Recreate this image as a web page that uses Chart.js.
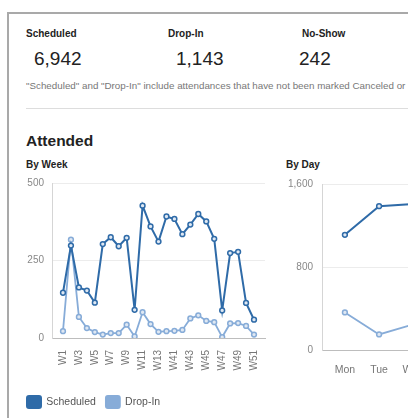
<!DOCTYPE html>
<html>
<head>
<meta charset="utf-8">
<script src="https://cdn.jsdelivr.net/npm/chart.js@4/dist/chart.umd.min.js"></script>
<style>
  body { margin: 0; width: 408px; height: 418px; overflow: hidden; background: #fff;
         font-family: "Liberation Sans", Arial, sans-serif; position: relative; }
  .card { position: absolute; left: 7px; top: 12px; width: 520px; height: 440px;
          border: 2px solid #a9a9a9; }
  .abs { position: absolute; white-space: nowrap; }
  .lbl { font-size: 10px; font-weight: bold; color: #222; }
  .val { font-size: 19px; color: #222; }
  .note { font-size: 9.8px; color: #777; }
  .rule { position: absolute; left: 26px; top: 108px; width: 500px; height: 1px; background: #ddd; }
  .title { font-size: 15.5px; font-weight: bold; color: #222; }
  canvas { position: absolute; }
</style>
</head>
<body>
<div class="card"></div>
<div class="abs lbl" style="left:26px;top:28px">Scheduled</div>
<div class="abs val" style="left:34px;top:48px">6,942</div>
<div class="abs lbl" style="left:168px;top:28px">Drop-In</div>
<div class="abs val" style="left:176px;top:48px">1,143</div>
<div class="abs lbl" style="left:302px;top:28px">No-Show</div>
<div class="abs val" style="left:299px;top:48px">242</div>
<div class="abs note" style="left:26px;top:80px">"Scheduled" and "Drop-In" include attendances that have not been marked Canceled or No-Show.</div>
<div class="rule"></div>
<div class="abs title" style="left:26px;top:132px">Attended</div>
<div class="abs lbl" style="left:26px;top:159px">By Week</div>
<div class="abs lbl" style="left:286px;top:159px">By Day</div>

<div style="position:absolute;left:17px;top:169px;width:258px;height:249px">
  <canvas id="week-chart"></canvas>
</div>
<div style="position:absolute;left:270px;top:169px;width:240px;height:213px">
  <canvas id="day-chart"></canvas>
</div>

<script>
const weeks = ['W1', 'W2', 'W3', 'W4', 'W5', 'W6', 'W7', 'W8', 'W9', 'W10', 'W11', 'W12', 'W13',
  'W40', 'W41', 'W42', 'W43', 'W44', 'W45', 'W46', 'W47', 'W48', 'W49', 'W50', 'W51'];
const weekScheduled = [146, 298, 163, 153, 114, 303, 325, 296, 323, 91, 427, 360, 311,
  392, 384, 335, 366, 400, 376, 320, 89, 274, 278, 113, 59];
const weekDropIn = [22, 317, 68, 32, 19, 11, 16, 16, 43, 5, 83, 45, 20,
  22, 23, 26, 63, 73, 55, 51, 3, 47, 48, 39, 11];

const days = ['Mon', 'Tue', 'Wed', 'Thu', 'Fri'];
const dayScheduled = [1110, 1386, 1408, 1560, 1478];
const dayDropIn = [362, 150, 246, 210, 175];

const weekTicks = [0, 250, 500];
const dayTicks = [0, 800, 1600];

const darkBlue = '#2f6ba8';
const lightBlue = '#87acd8';
const tickFont = { family: 'Liberation Sans', size: 10 };

function series(label, values, color, width) {
  return {
    label: label,
    data: values.map((v, i) => ({ x: i, y: v })),
    borderColor: color,
    backgroundColor: color,
    borderWidth: width,
    pointRadius: 2.4,
    pointBorderWidth: 1.5,
    pointBackgroundColor: '#dfe8f3',
    pointBorderColor: color,
    tension: 0
  };
}

function makeChart(id, cats, sched, drop, yTicks, opts) {
  const ctx = document.getElementById(id).getContext('2d');
  return new Chart(ctx, {
    type: 'line',
    data: {
      datasets: [
        series('Scheduled', sched, darkBlue, 2),
        series('Drop-In', drop, lightBlue, 1.8)
      ]
    },
    options: {
      responsive: true,
      maintainAspectRatio: false,
      animation: false,
      layout: { padding: opts.padding },
      plugins: {
        tooltip: { enabled: false },
        legend: opts.legend
      },
      scales: {
        x: {
          type: 'linear',
          min: opts.xmin,
          max: opts.xmax,
          grid: { display: false },
          border: { display: true, color: '#bdbdbd' },
          afterBuildTicks: axis => {
            axis.ticks = cats.map((c, i) => ({ value: i })).filter((t, i) => i % opts.every === 0);
          },
          afterFit: scale => { scale.height = opts.xHeight; },
          ticks: {
            color: '#777',
            font: { family: 'Liberation Sans', size: opts.xFont },
            padding: opts.xPad,
            minRotation: opts.rot,
            maxRotation: opts.rot,
            autoSkip: false,
            callback: v => cats[v]
          }
        },
        y: {
          min: yTicks[0],
          max: yTicks[yTicks.length - 1],
          afterBuildTicks: axis => { axis.ticks = yTicks.map(v => ({ value: v })); },
          afterFit: scale => { scale.width = opts.yWidth; },
          grid: { color: '#ececec', drawTicks: false },
          border: { display: true, color: '#d5d5d5' },
          ticks: { color: '#888', font: tickFont, padding: opts.yPad }
        }
      }
    }
  });
}

makeChart('week-chart', weeks, weekScheduled, weekDropIn, weekTicks, {
  padding: { top: 8, right: 10, left: 0, bottom: 0 },
  xmin: -1.38, xmax: 25.38, every: 2, rot: 90, xFont: 10, xPad: 4, xHeight: 48,
  yWidth: 35, yPad: 8,
  legend: {
    display: true,
    position: 'bottom',
    align: 'start',
    labels: {
      boxWidth: 14, boxHeight: 12, useBorderRadius: true, borderRadius: 2,
      color: '#555', font: { family: 'Liberation Sans', size: 10.5 }, padding: 10
    }
  }
});

makeChart('day-chart', days, dayScheduled, dayDropIn, dayTicks, {
  padding: { top: 8, right: 0, left: 0, bottom: 0 },
  xmin: -0.67, xmax: 4.67, every: 1, rot: 0, xFont: 10.5, xPad: 6, xHeight: 32,
  yWidth: 52, yPad: 9,
  legend: { display: false }
});
</script>
</body>
</html>
